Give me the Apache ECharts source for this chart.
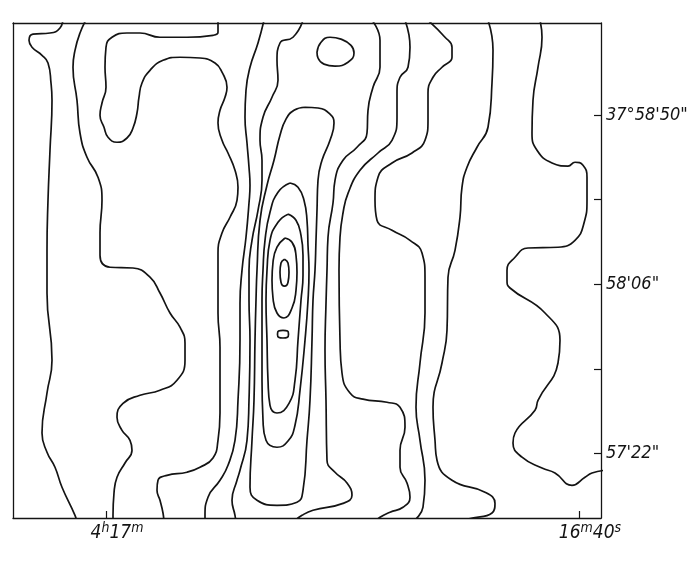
<!DOCTYPE html>
<html lang="ru">
<head>
    <meta charset="utf-8">
    <title>Contour map</title>
    <script src="https://cdn.jsdelivr.net/npm/echarts@6/dist/echarts.min.js"></script>
</head>
<body style="margin:0; background:#fff;">
<div id="main" style="width:691px; height:562px;"></div>
<script type="text/javascript">
    // x: offset in RA, arcsec west of 4h17m00s ; y: offset in Dec, arcsec from 37°58'06"
    const raTicks = [0, 236.5];
    const raLabels = ['{n|4}{s|h}{n|17}{s|m}', '{n|16}{s|m}{n|40}{s|s}'];
    const decTicks = [-44, -22, 0, 22, 44];
    const decLabelValues = [-44, 0, 44];
    const decLabels = ['57\'22"', '58\'06"', '37°58\'50"'];

    // contour lines, left to right
    const c1 = [[-21.5,69.2],[-23,66.6],[-28,65.3],[-36.5,65.0],[-38.5,63.4],[-37,61.6],[-32,59.5],[-29,57.5],[-27.5,52.3],[-27,47.8],[-28,34.8],[-29,21.8],[-29.5,8.8],[-29.5,-2.3],[-27,-19.8],[-29.5,-28.3],[-32,-38.7],[-29.5,-43.7],[-25.5,-47.6],[-22,-52.8],[-15.5,-60.1],[-14.5,-62.0]];
    const c2 = [[-9.5,69.2],[-13,65.3],[-15.5,60.8],[-16.5,56.4],[-14.5,47.8],[-13,39.3],[-9.5,33.0],[-4,27.8],[-2,21.8],[-3,13.3],[-3,7.5],[2,4.4],[13.5,4.2],[22,1.8],[27,-2.3],[32,-7.5],[37,-11.2],[39.5,-15.3],[39.5,-19.8],[35.5,-25.0],[27,-27.6],[17,-28.9],[8.5,-31.0],[5.5,-34.6],[8,-38.0],[12,-40.6],[13,-43.2],[9.5,-46.5],[5.5,-50.2],[4,-54.3],[3.5,-60.1],[3.5,-62.0]];
    const c3 = [[56,68.6],[56,65.5],[53.5,64.7],[40.5,64.2],[27,64.2],[17,65.3],[10.5,65.3],[3,64.2],[0,61.6],[-0.5,56.4],[0,51.2],[-2,47.1],[-3,43.9],[-1,40.8],[1,38.2],[5.5,36.9],[10.5,38.0],[13.5,40.6],[15.5,44.5],[16.5,48.6],[18,52.3],[22,55.6],[28.5,58.2],[37,59.0],[47,58.8],[54.5,57.5],[58,55.1],[60.5,51.2],[59.5,48.6],[57,45.2],[56,41.9],[58,37.4],[61,34.1],[64.5,29.6],[66,25.2],[65.5,21.8],[62,17.4],[58,13.3],[56,8.1],[56,1.0],[56,-7.5],[57,-16.4],[57,-33.5],[56,-40.6],[53.5,-45.2],[47,-47.6],[40.5,-48.9],[30.5,-49.7],[26,-51.0],[25.5,-53.6],[27,-56.2],[28.5,-59.5],[29,-62.0]];
    const c4 = [[79,68.6],[76,62.7],[72,56.4],[70,50.4],[69.5,43.4],[70.5,36.7],[71.5,30.4],[72,25.7],[71.5,21.1],[70,12.2],[68,3.6],[67,-5.0],[67,-14.6],[66,-30.2],[64.5,-40.6],[61,-47.1],[57,-51.0],[51,-55.4],[49.5,-60.1],[49.5,-62.0]];
    const c5 = [[98.5,68.6],[93.5,64.2],[87,62.7],[85.5,58.2],[86,53.0],[83,48.6],[78.5,43.4],[77,37.4],[78,32.2],[78,27.0],[76,19.2],[73,11.4],[71.5,3.6],[71.5,-4.2],[72,-14.6],[71.5,-30.2],[70.5,-40.6],[67,-48.4],[65.5,-51.0],[63,-56.2],[64.5,-60.1],[65,-62.0]];
    const ringF = [[99.5,46.0],[106,45.8],[112,44.2],[114,41.9],[112,37.4],[108,32.2],[106,27.0],[105.5,19.2],[105,11.4],[104.5,3.6],[103.5,-4.2],[103,-14.6],[102,-30.2],[100.5,-40.6],[98.5,-53.6],[95.5,-56.7],[85.5,-57.5],[75.5,-56.2],[72,-52.8],[73,-40.6],[74,-30.2],[74.5,-14.6],[75,-4.2],[75.5,3.6],[77,16.6],[80.5,25.7],[84,32.2],[87,38.7],[90,42.9],[94,45.2],[99.5,46.0]];
    const ringE = [[92,26.3],[96,25.2],[99,21.8],[100.5,16.6],[101,10.1],[101.5,3.6],[101,-4.2],[99.5,-14.6],[97,-27.6],[94.5,-36.7],[91,-40.8],[85.5,-42.4],[80,-40.6],[78.5,-35.4],[78,-25.0],[78,-14.6],[78,-4.2],[78.5,3.6],[79.5,11.4],[82,18.7],[86,23.9],[92,26.3]];
    const ringD = [[91,18.2],[95,16.6],[97.5,12.7],[98.5,7.5],[98.5,2.3],[97.5,-4.2],[96,-14.6],[94.5,-25.0],[91.5,-31.0],[85.5,-33.5],[82,-31.5],[81,-25.0],[80.5,-14.6],[80,-4.2],[80.5,3.6],[82,11.4],[86,16.1],[91,18.2]];
    const ringC = [[89.5,12.0],[93,10.9],[95,7.5],[95.5,3.1],[95,-1.6],[93,-6.2],[89,-8.8],[85.5,-7.5],[83.5,-3.6],[83,1.0],[83.5,5.7],[85.5,9.6],[89.5,12.0]];
    const ringA = [[89.25,6.5],[91,5.5],[91.5,3.1],[91,0.5],[89.25,-0.5],[87.5,0.5],[87,3.1],[87.5,5.5],[89.25,6.5]];
    const ringB = [[88.5,-12.0],[90.75,-12.2],[91.25,-13.0],[90.75,-13.8],[88.5,-14.0],[86.25,-13.8],[85.75,-13.0],[86.25,-12.2],[88.5,-12.0]];
    const ringTop = [[105.5,60.3],[107.5,62.9],[112,64.2],[117.5,63.7],[122.5,62.1],[124,60.1],[121,57.7],[114.5,56.7],[109,57.2],[106,58.8],[105.5,60.3]];
    const c6 = [[133,68.6],[137,63.4],[137,56.4],[133.5,51.2],[131,45.2],[130.5,39.3],[125.5,35.6],[118.5,32.2],[114.5,27.0],[113.5,21.1],[111,12.2],[110.5,3.6],[110,-5.0],[109.5,-17.2],[110,-30.2],[110.5,-45.8],[114.5,-48.9],[120.5,-51.7],[123,-54.9],[118.5,-57.0],[103.5,-58.8],[98,-60.1],[94.5,-61.5]];
    const c7 = [[149.5,68.6],[152,61.6],[151,56.4],[147,53.8],[145.5,49.7],[145.5,43.4],[143,37.4],[136,34.1],[127,29.6],[121,23.6],[118.5,18.5],[117,12.2],[116.5,3.6],[117,-14.6],[118,-23.1],[122,-28.3],[128.5,-29.9],[140.5,-30.7],[147,-32.0],[149.5,-37.2],[147,-43.2],[147,-47.6],[150.5,-51.7],[152,-55.4],[148.5,-58.0],[142,-59.3],[137,-60.6],[134,-62.0]];
    const c8 = [[161,68.6],[169.5,64.2],[173,61.6],[173,59.0],[168,56.4],[163.5,53.8],[161,49.7],[161,42.6],[159.5,37.4],[153,34.1],[143,31.5],[136,27.8],[134.5,21.8],[135.5,16.6],[143,14.0],[152,11.4],[158,8.1],[159.5,1.8],[159.5,-7.5],[157,-20.5],[155,-32.0],[157,-40.6],[159.5,-51.0],[158.5,-58.0],[154.5,-61.4],[152,-62.5]];
    const c9 = [[191,68.6],[193.5,60.8],[193,52.3],[191,40.8],[185.5,35.6],[180.5,30.4],[178,25.2],[177,17.4],[174.5,8.8],[171,1.8],[170.5,-12.0],[168,-20.5],[163.5,-32.0],[164.5,-40.6],[165.5,-45.8],[173,-51.0],[189.5,-54.1],[194.5,-57.0],[193,-59.5],[181,-61.1],[176,-62.4]];
    const c10 = [[217,68.6],[218,64.2],[216,56.4],[213.5,47.8],[213,39.3],[215.5,34.8],[223,31.5],[231,30.7],[234.5,31.7],[238.5,30.9],[240.5,27.8],[240.5,21.8],[239,15.9],[234.5,11.4],[226,9.6],[211,9.4],[204.5,7.0],[200.5,3.6],[200.5,1.0],[202,-1.0],[219.5,-7.5],[227,-14.6],[226,-20.5],[216,-30.2],[214.5,-32.8],[204.5,-38.7],[203.5,-41.3],[208,-45.0],[218,-47.8],[224.5,-49.1],[233,-52.3],[239.5,-50.2],[243,-49.1],[249.5,-48.4]];

    const contours = [c1, c2, c3, c4, c5, ringF, ringE, ringD, ringC, ringA, ringB, ringTop, c6, c7, c8, c9, c10];

    const FONT = "'Liberation Sans Narrow', 'DejaVu Sans Condensed', 'Liberation Sans', sans-serif";
    const INK = '#141414';

    function init() {
        let myChart = echarts.init(document.getElementById('main'), null, {renderer: 'canvas'});
        const frameLine = {show: true, onZero: false, lineStyle: {color: INK, width: 1.3}};
        const option = {
            backgroundColor: '#ffffff',
            animation: false,
            grid: {left: 13, right: 90, top: 23, bottom: 44, containLabel: false, outerBoundsMode: 'none'},
            xAxis: [{
                type: 'value', position: 'bottom', min: -46.5, max: 247.5,
                axisLine: frameLine,
                axisTick: {show: true, inside: true, length: 7, customValues: raTicks, lineStyle: {color: INK, width: 1.2}},
                axisLabel: {
                    customValues: raTicks, margin: 3, padding: [0, 0, 0, 22],
                    formatter: function (v) { return raLabels[raTicks.indexOf(v)]; },
                    rich: {
                        n: {fontFamily: FONT, fontStyle: 'italic', fontSize: 19, lineHeight: 22, color: INK, verticalAlign: 'bottom'},
                        s: {fontFamily: FONT, fontStyle: 'italic', fontSize: 14, lineHeight: 6, color: INK, verticalAlign: 'top'}
                    }
                },
                splitLine: {show: false}
            }, {
                type: 'value', position: 'top', min: -46.5, max: 247.5,
                axisLine: frameLine, axisTick: {show: false}, axisLabel: {show: false}, splitLine: {show: false}
            }],
            yAxis: [{
                type: 'value', position: 'right', min: -60.8, max: 67.9,
                axisLine: frameLine,
                axisTick: {show: true, inside: true, length: 7, customValues: decTicks, lineStyle: {color: INK, width: 1.2}},
                axisLabel: {
                    customValues: decLabelValues, margin: 5,
                    fontFamily: FONT, fontStyle: 'italic', fontSize: 18, color: INK,
                    formatter: function (v) { return decLabels[decLabelValues.indexOf(v)]; }
                },
                splitLine: {show: false}
            }, {
                type: 'value', position: 'left', min: -60.8, max: 67.9,
                axisLine: frameLine, axisTick: {show: false}, axisLabel: {show: false}, splitLine: {show: false}
            }],
            series: contours.map(function (d) {
                return {
                    type: 'line', data: d, smooth: 0.5, showSymbol: false, silent: true, clip: true,
                    lineStyle: {color: INK, width: 1.7}
                };
            })
        };
        myChart.setOption(option);
    }
    init();
</script>
</body>
</html>
